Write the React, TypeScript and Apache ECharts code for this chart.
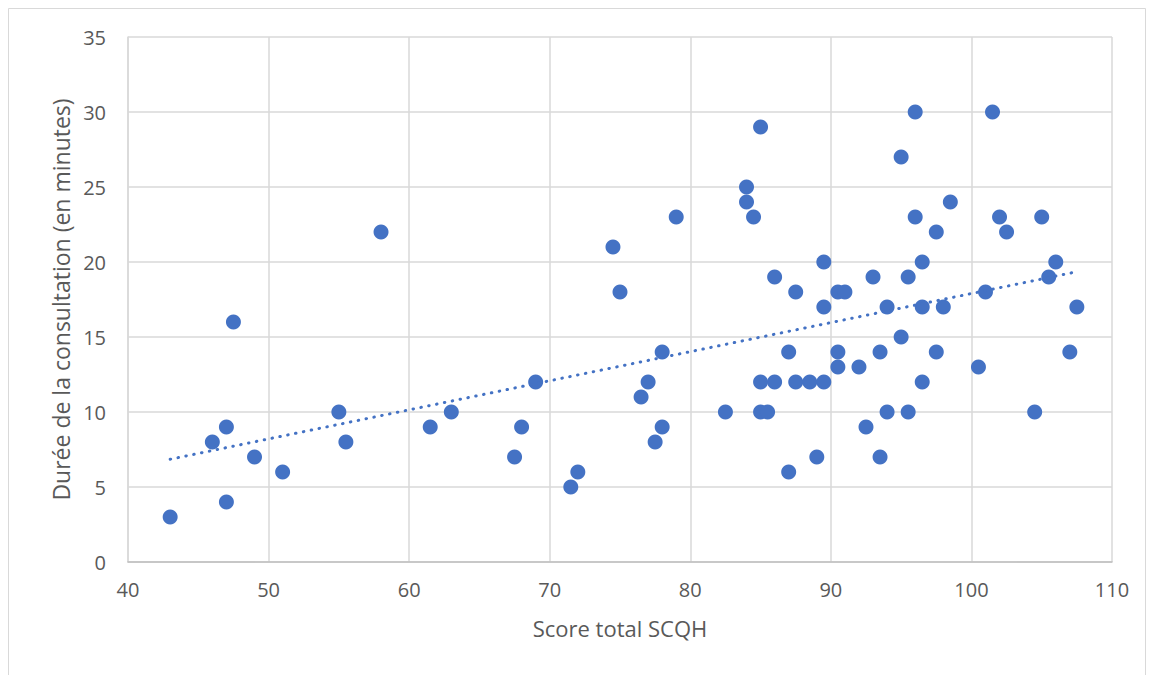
import React, { useEffect, useRef } from "react";
import * as echarts from "echarts";

const scoreSCQH: number[] = [
  43, 46, 47, 47, 47.5, 49, 51, 55, 55.5, 58,
  61.5, 63, 67.5, 68, 69, 71.5, 72, 74.5, 75, 76.5,
  77, 77.5, 78, 78, 79, 82.5, 84, 84, 84.5, 85,
  85, 85, 85.5, 86, 86, 87, 87, 87.5, 87.5, 88.5,
  89, 89.5, 89.5, 89.5, 90.5, 90.5, 90.5, 91, 92, 92.5,
  93, 93.5, 93.5, 94, 94, 95, 95, 95.5, 95.5, 96,
  96, 96.5, 96.5, 96.5, 97.5, 97.5, 98, 98.5, 100.5, 101,
  101.5, 102, 102.5, 104.5, 105, 105.5, 106, 107, 107.5,
];
const dureeMinutes: number[] = [
  3, 8, 9, 4, 16, 7, 6, 10, 8, 22,
  9, 10, 7, 9, 12, 5, 6, 21, 18, 11,
  12, 8, 9, 14, 23, 10, 25, 24, 23, 29,
  12, 10, 10, 19, 12, 14, 6, 18, 12, 12,
  7, 20, 17, 12, 18, 14, 13, 18, 13, 9,
  19, 14, 7, 17, 10, 27, 15, 19, 10, 30,
  23, 20, 17, 12, 22, 14, 17, 24, 13, 18,
  30, 23, 22, 10, 23, 19, 20, 14, 17,
];
const xTicks = [40, 50, 60, 70, 80, 90, 100, 110];
const yTicks = [0, 5, 10, 15, 20, 25, 30, 35];

const xTitle = "Score total SCQH";
const yTitle = "Durée de la consultation (en minutes)";

function regression(xs: number[], ys: number[]) {
  const n = xs.length;
  const mx = xs.reduce((a, b) => a + b, 0) / n;
  const my = ys.reduce((a, b) => a + b, 0) / n;
  let sxy = 0;
  let sxx = 0;
  for (let i = 0; i < n; i++) {
    sxy += (xs[i] - mx) * (ys[i] - my);
    sxx += (xs[i] - mx) * (xs[i] - mx);
  }
  const b = sxy / sxx;
  return { a: my - b * mx, b };
}

export default function App() {
  const ref = useRef<HTMLDivElement>(null);
  useEffect(() => {
    document.body.style.margin = "0";
    if (!ref.current) return;
    const chart = echarts.init(ref.current, undefined, { renderer: "svg" });
    const pts = scoreSCQH.map((x, i) => [x, dureeMinutes[i]]);
    const { a, b } = regression(scoreSCQH, dureeMinutes);
    const xmin = Math.min(...scoreSCQH);
    const xmax = Math.max(...scoreSCQH);
    const trend = [
      [xmin, a + b * xmin],
      [xmax, a + b * xmax],
    ];
    const font = "'Open Sans', 'Noto Sans', sans-serif";
    chart.setOption({
      animation: false,
      backgroundColor: "#ffffff",
      textStyle: { fontFamily: font },
      graphic: [
        {
          type: "rect",
          shape: { x: 8.5, y: 8.5, width: 1137, height: 700 },
          style: { fill: "none", stroke: "#d9d9d9", lineWidth: 1 },
          silent: true,
        },
      ],
      grid: { left: 128, right: 42, top: 37, bottom: 113 },
      xAxis: {
        type: "value",
        min: xTicks[0],
        max: xTicks[xTicks.length - 1],
        interval: 10,
        name: xTitle,
        nameLocation: "middle",
        nameGap: 55,
        nameTextStyle: { color: "#595959", fontSize: 22, fontFamily: font },
        axisLine: { show: true, onZero: false, lineStyle: { color: "#bfbfbf", width: 1.5 } },
        axisTick: { show: false },
        axisLabel: { color: "#595959", fontSize: 20, margin: 17, fontFamily: font },
        splitLine: { show: true, lineStyle: { color: "#d9d9d9", width: 1.5 } },
      },
      yAxis: {
        type: "value",
        min: yTicks[0],
        max: yTicks[yTicks.length - 1],
        interval: 5,
        name: yTitle,
        nameLocation: "middle",
        nameGap: 55,
        nameRotate: 90,
        nameTextStyle: { color: "#595959", fontSize: 23, fontFamily: font },
        axisLine: { show: true, lineStyle: { color: "#d9d9d9", width: 1.5 } },
        axisTick: { show: false },
        axisLabel: { color: "#595959", fontSize: 20, margin: 22, fontFamily: font },
        splitLine: { show: true, lineStyle: { color: "#d9d9d9", width: 1.5 } },
      },
      series: [
        {
          type: "scatter",
          data: pts,
          symbol: "circle",
          symbolSize: 15,
          itemStyle: { color: "#4472C4", opacity: 1 },
          z: 3,
        },
        {
          type: "line",
          data: trend,
          showSymbol: false,
          symbol: "none",
          lineStyle: { color: "#4472C4", width: 3, type: [0.5, 7.5], cap: "round" },
          z: 4,
          silent: true,
        },
      ],
    });
    return () => chart.dispose();
  }, []);
  return <div ref={ref} style={{ width: 1154, height: 675 }} />;
}
